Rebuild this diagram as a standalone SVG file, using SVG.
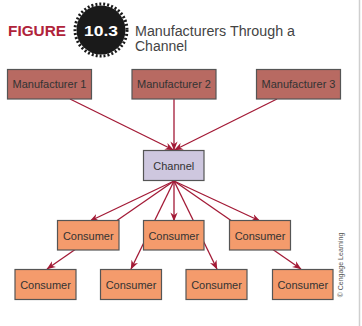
<svg xmlns="http://www.w3.org/2000/svg" width="362" height="326" viewBox="0 0 362 326">
<defs>
<style>
.mfr{fill:#b86a62;stroke:#555;stroke-width:1.2}
.chn{fill:#cec7df;stroke:#555;stroke-width:1.2}
.con{fill:#f49b6c;stroke:#555;stroke-width:1.2}
.lbl{font-family:"Liberation Sans",Arial,sans-serif;font-size:11px;fill:#333;text-anchor:middle}
.ln{stroke:#a31a36;stroke-width:1.3;fill:none}
</style>
<marker id="ah" viewBox="0 0 10 8" refX="9.5" refY="4" markerWidth="9" markerHeight="8" markerUnits="userSpaceOnUse" orient="auto">
<path d="M0,0 L10,4 L0,8 L3,4 z" fill="#a31a36"/>
</marker>
</defs>
<rect width="362" height="326" fill="#fff"/>
<line x1="359.5" y1="0" x2="359.5" y2="326" stroke="#cfcfcf" stroke-width="1.5"/>
<g id="header">
<text x="8" y="36" font-family="Liberation Sans,Arial,sans-serif" font-weight="bold" font-size="14" fill="#b0233a" textLength="58" lengthAdjust="spacingAndGlyphs">FIGURE</text>
<circle cx="101" cy="30" r="24.5" fill="#1a1a1a"/>
<circle cx="101" cy="30" r="26" fill="none" stroke="#1a1a1a" stroke-width="3" stroke-dasharray="2 2"/>
<text x="101" y="35.5" font-family="Liberation Sans,Arial,sans-serif" font-weight="bold" font-size="14" fill="#fff" text-anchor="middle" textLength="34" lengthAdjust="spacingAndGlyphs">10.3</text>
<text font-family="Liberation Sans,Arial,sans-serif" font-size="14" fill="#444"><tspan x="135" y="36" textLength="160" lengthAdjust="spacingAndGlyphs">Manufacturers Through a</tspan><tspan x="135" y="51">Channel</tspan></text>
</g>
<g id="connectors">
<line class="ln" x1="70" y1="99" x2="173.5" y2="150" marker-end="url(#ah)"/>
<line class="ln" x1="174" y1="99" x2="174" y2="150" marker-end="url(#ah)"/>
<line class="ln" x1="277" y1="99" x2="174.5" y2="150" marker-end="url(#ah)"/>
<line class="ln" x1="174" y1="181" x2="90" y2="221" marker-end="url(#ah)"/>
<line class="ln" x1="174" y1="181" x2="174" y2="221" marker-end="url(#ah)"/>
<line class="ln" x1="174" y1="181" x2="260" y2="221" marker-end="url(#ah)"/>
<line class="ln" x1="174" y1="181" x2="47" y2="269" marker-end="url(#ah)"/>
<line class="ln" x1="174" y1="181" x2="131" y2="269" marker-end="url(#ah)"/>
<line class="ln" x1="174" y1="181" x2="217" y2="269" marker-end="url(#ah)"/>
<line class="ln" x1="174" y1="181" x2="301" y2="269" marker-end="url(#ah)"/>
</g>
<g id="manufacturer1"><rect class="mfr" x="7.5" y="69.5" width="84" height="29.5"/><text class="lbl" x="49.5" y="88">Manufacturer 1</text></g>
<g id="manufacturer2"><rect class="mfr" x="132" y="69.5" width="84" height="29.5"/><text class="lbl" x="174" y="88">Manufacturer 2</text></g>
<g id="manufacturer3"><rect class="mfr" x="256.5" y="69.5" width="84" height="29.5"/><text class="lbl" x="298.5" y="88">Manufacturer 3</text></g>
<g id="channel"><rect class="chn" x="143.5" y="150.5" width="60.5" height="30"/><text class="lbl" x="173.75" y="169.5">Channel</text></g>
<g id="consumer1"><rect class="con" x="57.5" y="220.5" width="61.5" height="29.5"/><text class="lbl" x="88.25" y="239.5">Consumer</text></g>
<g id="consumer2"><rect class="con" x="143.5" y="220.5" width="60.5" height="29.5"/><text class="lbl" x="173.75" y="239.5">Consumer</text></g>
<g id="consumer3"><rect class="con" x="229.5" y="220.5" width="61" height="29.5"/><text class="lbl" x="260" y="239.5">Consumer</text></g>
<g id="consumer4"><rect class="con" x="15" y="269.5" width="61" height="30"/><text class="lbl" x="45.5" y="288.5">Consumer</text></g>
<g id="consumer5"><rect class="con" x="100.5" y="269.5" width="61" height="30"/><text class="lbl" x="131" y="288.5">Consumer</text></g>
<g id="consumer6"><rect class="con" x="186" y="269.5" width="61" height="30"/><text class="lbl" x="216.5" y="288.5">Consumer</text></g>
<g id="consumer7"><rect class="con" x="272.5" y="269.5" width="60.5" height="30"/><text class="lbl" x="302.75" y="288.5">Consumer</text></g>
<text x="0" y="0" transform="translate(342.5,265) rotate(-90)" font-family="Liberation Sans,Arial,sans-serif" font-size="7" fill="#555" text-anchor="middle">© Cengage Learning</text>
</svg>
